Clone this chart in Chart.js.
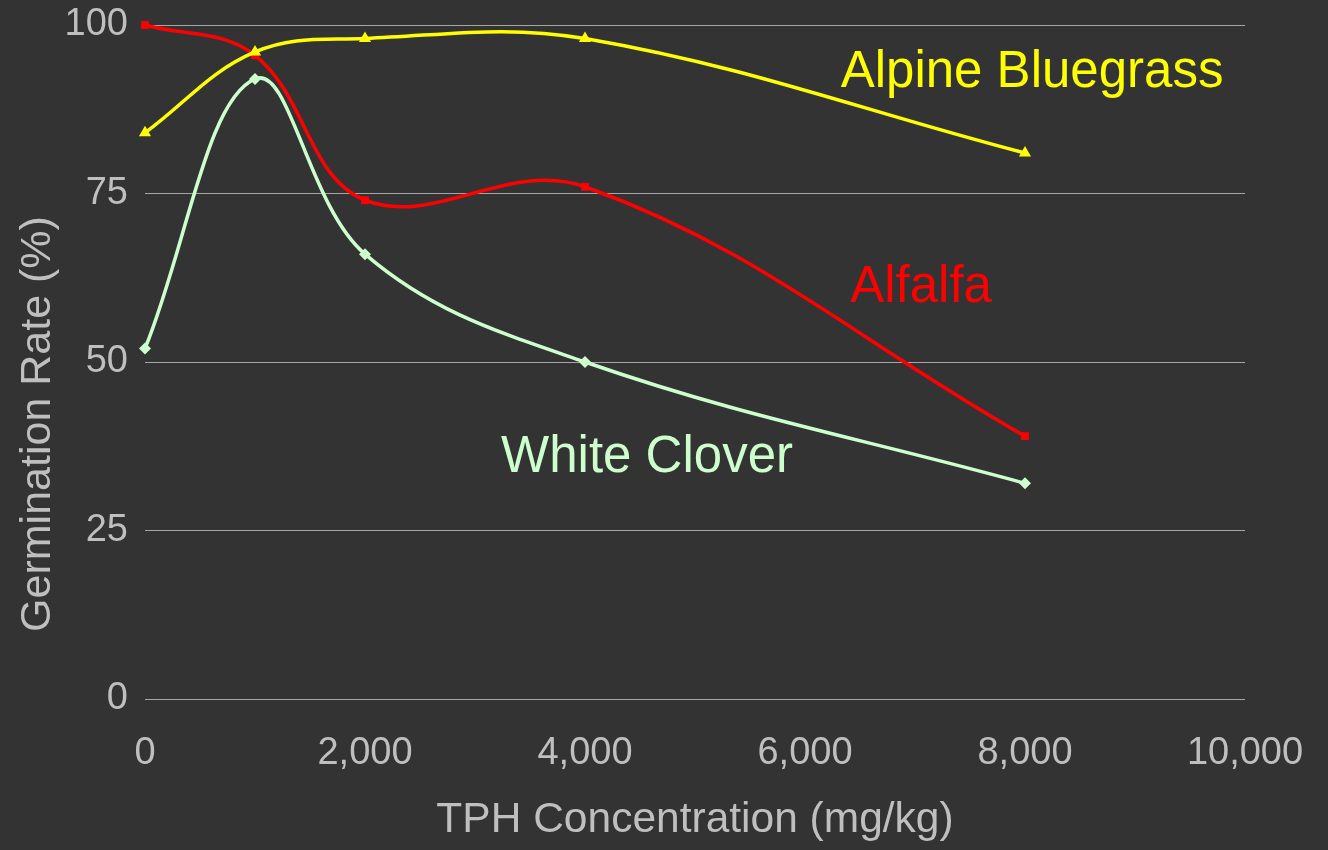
<!DOCTYPE html>
<html>
<head>
<meta charset="utf-8">
<script src="https://cdn.jsdelivr.net/npm/chart.js@4"></script>
<style>
  html, body { margin: 0; padding: 0; background: #333333; }
  #wrap { width: 1328px; height: 850px; }
</style>
</head>
<body>
<div id="wrap"><canvas id="germChart" width="1328" height="850"></canvas></div>
<script>
// TPH concentration (mg/kg) and germination rate (%)
const concentrations = [0, 1000, 2000, 4000, 8000];
const bluegrass = [84, 96, 98, 98, 81];
const alfalfa = [100, 95.5, 74, 76, 39];
const clover = [52, 92, 66, 50, 32];

const seriesNames = ['Alpine Bluegrass', 'Alfalfa', 'White Clover'];
const seriesColors = ['#ffff00', '#ff0000', '#ccffcc'];
// where each series name sits, in data units
const labelX = [8064, 7055, 4564];
const labelY = [92.9, 61, 35.8];

const FONT = '"Liberation Sans", Arial, sans-serif';
const AXIS_GREY = '#bfbfbf';

function toPoints(ys) {
    return concentrations.map((x, i) => ({ x: x, y: ys[i] }));
}

// series names inside the plot + the y axis title (sits a bit low, like the original)
const chartTexts = {
    id: 'chartTexts',
    afterDatasetsDraw(chart) {
        const ctx = chart.ctx;
        const xs = chart.scales.x, ys = chart.scales.y;
        ctx.save();
        ctx.font = '51px ' + FONT;
        ctx.textAlign = 'center';
        ctx.textBaseline = 'middle';
        seriesNames.forEach((name, i) => {
            ctx.fillStyle = seriesColors[i];
            ctx.fillText(name, xs.getPixelForValue(labelX[i]), ys.getPixelForValue(labelY[i]));
        });

        ctx.translate(38, 424);
        ctx.rotate(-Math.PI / 2);
        ctx.font = '43px ' + FONT;
        ctx.fillStyle = AXIS_GREY;
        ctx.fillText('Germination Rate (%)', 0, 0);
        ctx.restore();
    }
};

const ctx = document.getElementById('germChart').getContext('2d');
new Chart(ctx, {
    type: 'line',
    data: {
        datasets: [
            { label: seriesNames[0], data: toPoints(bluegrass), borderColor: seriesColors[0], backgroundColor: seriesColors[0], pointStyle: 'triangle', pointRadius: 7 },
            { label: seriesNames[1], data: toPoints(alfalfa), borderColor: seriesColors[1], backgroundColor: seriesColors[1], pointStyle: 'rect', pointRadius: 5.5 },
            { label: seriesNames[2], data: toPoints(clover), borderColor: seriesColors[2], backgroundColor: seriesColors[2], pointStyle: 'rectRot', pointRadius: 6 }
        ].map(d => Object.assign(d, { borderWidth: 3.5, tension: 0.38, fill: false, pointBorderWidth: 0, clip: false }))
    },
    options: {
        responsive: false,
        animation: false,
        layout: { padding: { top: 25, right: 83, left: 0, bottom: 0 } },
        plugins: { legend: { display: false }, tooltip: { enabled: false } },
        scales: {
            x: {
                type: 'linear',
                min: 0, max: 10000,
                afterFit(scale) { scale.height = 151; },
                ticks: { stepSize: 2000, color: AXIS_GREY, font: { family: FONT, size: 38 }, padding: 24, maxRotation: 0 },
                grid: { display: false },
                border: { display: false },
                title: { display: true, text: 'TPH Concentration (mg/kg)', color: AXIS_GREY, font: { family: FONT, size: 42.5 }, padding: { top: 14 } }
            },
            y: {
                min: 0, max: 100,
                afterFit(scale) { scale.width = 145; scale.paddingTop = 0; },
                ticks: { stepSize: 25, color: AXIS_GREY, font: { family: FONT, size: 38 }, padding: 17 },
                grid: { color: '#a6a6a6', lineWidth: 1, drawTicks: false },
                border: { display: false }
            }
        }
    },
    plugins: [chartTexts]
});
</script>
</body>
</html>
